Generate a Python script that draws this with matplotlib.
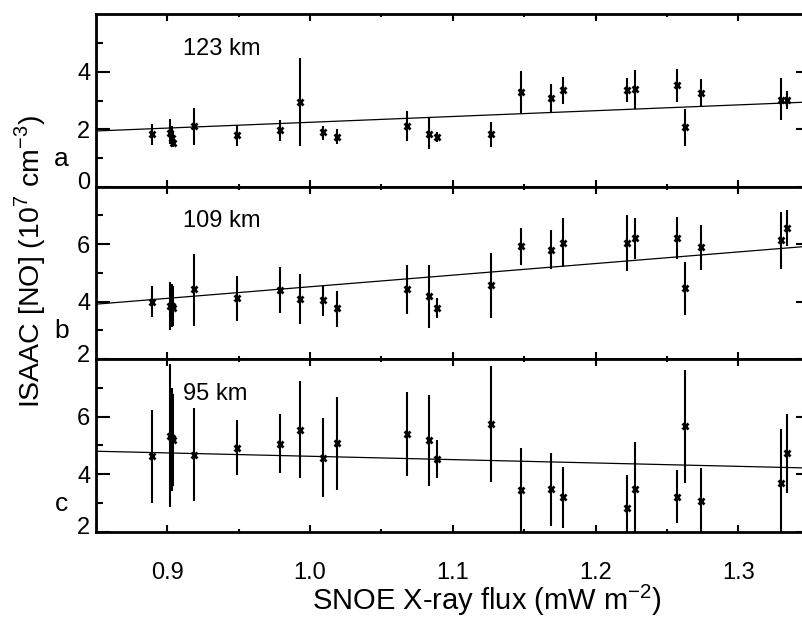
import numpy as np
import matplotlib
matplotlib.use("Agg")
import matplotlib.pyplot as plt
import matplotlib.transforms as mtransforms

plt.rcParams["font.family"] = ["Liberation Sans", "DejaVu Sans"]
plt.rcParams["mathtext.fontset"] = "custom"
plt.rcParams["mathtext.rm"] = "Liberation Sans"

# ======================= data ======================= #
x_flux = [0.889, 0.902, 0.903, 0.904, 0.919, 0.949, 0.979, 0.993, 1.009,
          1.019, 1.068, 1.083, 1.089, 1.127, 1.148, 1.169, 1.177, 1.222,
          1.228, 1.257, 1.263, 1.274, 1.330, 1.334]

# 123 km
no_123 = [1.82, 1.88, 1.70, 1.51, 2.13, 1.80, 1.97, 2.96, 1.89, 1.74, 2.13,
          1.85, 1.74, 1.82, 3.29, 3.09, 3.37, 3.37, 3.39, 3.54, 2.09, 3.25,
          3.02, 3.02]
lo_123 = [1.45, 1.50, 1.45, 1.37, 1.45, 1.42, 1.59, 1.42, 1.63, 1.49, 1.60,
          1.31, 1.57, 1.39, 2.52, 2.58, 2.88, 2.96, 2.69, 2.96, 1.43, 2.76,
          2.32, 2.69]
hi_123 = [2.17, 2.35, 2.10, 1.90, 2.73, 2.15, 2.32, 4.47, 2.13, 2.01, 2.64,
          2.38, 1.92, 2.26, 4.04, 3.58, 3.83, 3.77, 4.06, 4.10, 2.71, 3.75,
          3.77, 3.33]

# 109 km
no_109 = [4.00, 3.86, 3.83, 3.79, 4.43, 4.11, 4.40, 4.10, 4.06, 3.77, 4.43,
          4.20, 3.79, 4.58, 5.94, 5.81, 6.05, 6.05, 6.20, 6.20, 4.48, 5.89,
          6.15, 6.55]
lo_109 = [3.45, 3.01, 3.10, 3.15, 3.16, 3.33, 3.59, 3.22, 3.51, 3.10, 3.57,
          3.09, 3.42, 3.44, 5.27, 5.12, 5.22, 5.08, 5.48, 5.48, 3.53, 5.10,
          5.12, 5.94]
hi_109 = [4.54, 4.69, 4.60, 4.55, 5.66, 4.90, 5.22, 4.96, 4.58, 4.37, 5.27,
          5.27, 4.11, 5.68, 6.57, 6.49, 6.90, 7.02, 6.90, 6.94, 5.39, 6.67,
          7.13, 7.19]

# 95 km
no_95 = [4.62, 5.32, 5.25, 5.19, 4.68, 4.92, 5.06, 5.55, 4.57, 5.09, 5.41,
         5.18, 4.54, 5.73, 3.43, 3.49, 3.20, 2.83, 3.49, 3.21, 5.67, 3.06,
         3.70, 4.72]
lo_95 = [3.00, 2.86, 3.40, 3.60, 3.06, 3.96, 4.02, 3.87, 3.20, 3.46, 3.95,
         3.58, 3.85, 3.72, 1.90, 2.19, 2.13, 1.70, 1.80, 2.28, 3.70, 1.90,
         1.50, 3.35]
hi_95 = [6.23, 7.82, 7.00, 6.80, 6.29, 5.88, 6.08, 7.24, 5.94, 6.68, 6.87,
         6.77, 5.18, 7.76, 4.92, 4.74, 4.25, 3.96, 5.13, 4.14, 7.64, 4.20,
         5.58, 6.08]

# linear fits: y = intercept + slope * x
fit_intercept = [0.223, 0.476, 5.79]
fit_slope = [2.02, 4.04, -1.17]

alt_labels = ["123 km", "109 km", "95 km"]
panel_letters = ["a", "b", "c"]
y_limits = [(0, 6), (2, 8), (2, 8)]
y_major = [[0, 2, 4], [2, 4, 6], [2, 4, 6]]
y_minor = [[1, 3, 5], [3, 5, 7], [3, 5, 7]]
x_major = [0.9, 1.0, 1.1, 1.2, 1.3]
x_minor = [0.95, 1.05, 1.15, 1.25]
x_ticklabels = ["0.9", "1.0", "1.1", "1.2", "1.3"]

panels = [(no_123, lo_123, hi_123), (no_109, lo_109, hi_109),
          (no_95, lo_95, hi_95)]

# ============================== figure ================================= #
W, H = 803, 619
fig = plt.figure(figsize=(W / 100, H / 100), dpi=100)

left = 96 / W
width = (809.6 - 96) / W
ph = 172.3 / H
bottoms = [1 - 186.7 / H, 1 - 359.0 / H, 1 - 531.5 / H]

xfit = np.array([0.85, 1.35])
for i, (vals, lo, hi) in enumerate(panels):
    ax = fig.add_axes([left, bottoms[i], width, ph])
    ax.set_xlim(0.85, 1.35)
    ax.set_ylim(*y_limits[i])

    ax.vlines(x_flux, lo, hi, color="black", lw=1.5)
    ax.plot(x_flux, vals, "x", color="black", ms=5, mew=2)
    ax.plot(xfit, fit_intercept[i] + fit_slope[i] * xfit, color="black", lw=0.9)

    ax.set_yticks(y_major[i])
    ax.set_yticks(y_minor[i], minor=True)
    ax.set_xticks(x_major)
    ax.set_xticks(x_minor, minor=True)
    ax.tick_params(which="both", direction="in", top=True, right=True, width=1.5)
    ax.tick_params(axis="y", which="major", length=10, labelsize=17, pad=4)
    ax.tick_params(axis="y", which="minor", length=5)
    ax.tick_params(axis="x", which="major", length=5, labelsize=17, pad=22)
    ax.tick_params(axis="x", which="minor", length=2.5)
    for s in ax.spines.values():
        s.set_linewidth(2)

    if i < 2:
        ax.set_xticklabels([])
    else:
        ax.set_xticklabels(x_ticklabels)

    # lowest y label sits a little above its tick
    lab = ax.get_yticklabels()[0]
    lab.set_transform(lab.get_transform()
                      + mtransforms.ScaledTranslation(0, 6 / 100, fig.dpi_scale_trans))

    ax.text(0.122, 0.80, alt_labels[i], transform=ax.transAxes,
            fontsize=17, va="center", ha="left")
    ax.text(-0.048, 0.12, panel_letters[i], transform=ax.transAxes,
            fontsize=19, va="baseline", ha="center")

fig.text(487 / W, 1 - 600 / H, "SNOE X-ray flux (mW m$^{-2}$)",
         fontsize=21, ha="center", va="center")
fig.text(30 / W, 1 - 262 / H, "ISAAC [NO] (10$^{7}$ cm$^{-3}$)",
         fontsize=20.5, ha="center", va="center", rotation=90)

fig.savefig("out.png", dpi=100)
